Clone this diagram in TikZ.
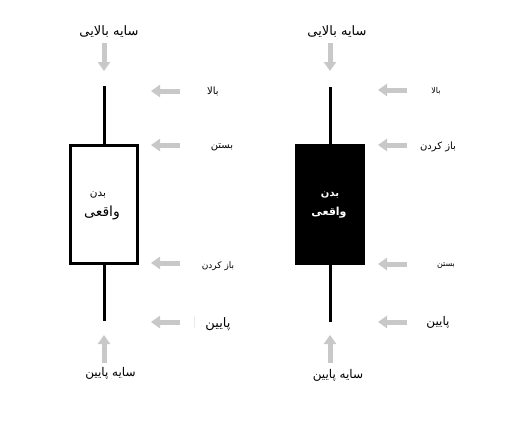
\documentclass[tikz,border=0pt]{standalone}
\usepackage{fontspec}
\setmainfont{DejaVu Sans}
\newfontfamily\arabicfont[Script=Arabic]{DejaVu Sans}
\TeXXeTstate=1
\usetikzlibrary{arrows.meta}
\definecolor{arrowgrey}{RGB}{200,200,200}
\newcommand{\afs}[1]{\arabicfont\fontsize{#1}{#1}\selectfont}
\begin{document}
\begin{tikzpicture}[x=1pt,y=-1pt,
  garrow/.style={draw=arrowgrey,line width=5pt,-{Triangle[width=12pt,length=9pt]}},
  wick/.style={line width=3pt,black},
  lbl/.style={inner sep=0pt}]
\useasboundingbox[fill=white] (0,0) rectangle (525,423);
% left candle
\coordinate (lwt) at (104,86);
\coordinate (lwb) at (104,321);
\draw[wick] (lwt) -- (lwb);
\node[draw=black,line width=3pt,fill=white,minimum width=67pt,minimum height=118pt,inner sep=0pt] (lbody) at (103.5,204) {};
\node[lbl,font=\afs{10.5}] (lb1) at (98,195) {\beginR بدن\endR};
\node[lbl,font=\afs{14}] (lb2) at (102,213) {\beginR واقعی\endR};
% right candle
\coordinate (rwt) at (330,87);
\coordinate (rwb) at (330,322);
\draw[wick] (rwt) -- (rwb);
\node[fill=black,minimum width=70pt,minimum height=121pt,inner sep=0pt] (rbody) at (330,204.5) {};
\node[lbl,text=white,font=\afs{10}\bfseries] (rb1) at (330,195) {\beginR بدن\endR};
\node[lbl,text=white,font=\afs{11}\bfseries] (rb2) at (329,213) {\beginR واقعی\endR};
% shadow labels
\node[lbl,font=\afs{13}] (lus) at (109,32) {\beginR سایه بالایی\endR};
\node[lbl,font=\afs{13}] (rus) at (337,32) {\beginR سایه بالایی\endR};
\node[lbl,font=\afs{12}] (lls) at (110.5,373) {\beginR سایه پایین\endR};
\node[lbl,font=\afs{12}] (rls) at (338,375) {\beginR سایه پایین\endR};
% vertical arrows
\coordinate (lua0) at (104,43); \coordinate (lua1) at (104,71);
\coordinate (rua0) at (330,43); \coordinate (rua1) at (330,71);
\coordinate (lla0) at (104,363); \coordinate (lla1) at (104,335);
\coordinate (rla0) at (330,363); \coordinate (rla1) at (330,335);
\draw[garrow] (lua0) -- (lua1);
\draw[garrow] (rua0) -- (rua1);
\draw[garrow] (lla0) -- (lla1);
\draw[garrow] (rla0) -- (rla1);
% left side labels and arrows
\node[lbl,font=\afs{10}] (lhigh) at (213,91) {\beginR بالا\endR};
\node[lbl,font=\afs{10}] (lclose) at (222,147) {\beginR بستن\endR};
\node[lbl,font=\afs{9}] (lopen) at (218,266) {\beginR باز کردن\endR};
\node[lbl,font=\afs{13}] (llow) at (218,324) {\beginR پایین\endR};
\foreach \n/\y in {lhigh/91,lclose/145,lopen/263,llow/322}{
  \coordinate (\n a) at (180,\y); \coordinate (\n b) at (151,\y);
  \draw[garrow] (\n a) -- (\n b);
}
\draw[draw=black!8,line width=0.7pt] (194,316) -- (194,328);
% right side labels and arrows
\node[lbl,font=\afs{8}] (rhigh) at (436,91) {\beginR بالا\endR};
\node[lbl,font=\afs{10}] (ropen) at (438,147) {\beginR باز کردن\endR};
\node[lbl,font=\afs{8}] (rclose) at (446,266) {\beginR بستن\endR};
\node[lbl,font=\afs{12}] (rlow) at (438,322) {\beginR پایین\endR};
\foreach \n/\y in {rhigh/90,ropen/145,rclose/264,rlow/322}{
  \coordinate (\n a) at (407,\y); \coordinate (\n b) at (378,\y);
  \draw[garrow] (\n a) -- (\n b);
}
\end{tikzpicture}
\end{document}
